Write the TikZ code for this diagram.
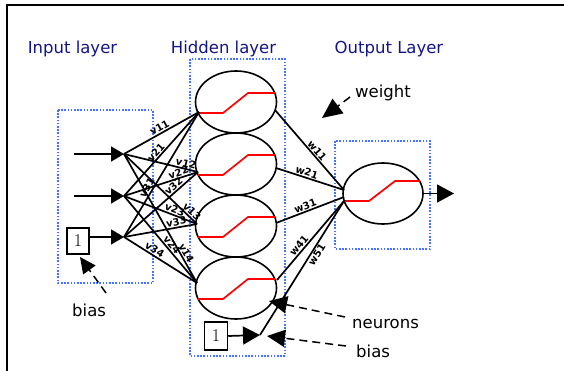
\documentclass[tikz,border=0pt]{standalone}
\usepackage{fontspec}
\newfontfamily\dv{DejaVu Sans}
\usetikzlibrary{arrows.meta,shapes.geometric}
\definecolor{navy}{RGB}{20,20,135}
\definecolor{dotblue}{RGB}{70,115,255}
\begin{document}
\begin{tikzpicture}[x=1pt,y=-1pt,
  every node/.style={inner sep=0pt},
  conn/.style={line width=1.7pt},
  neuron/.style={draw, line width=1.6pt, ellipse, minimum width=81pt, minimum height=62pt},
  act/.style={red, line width=1.7pt},
  layerbox/.style={dotblue, line width=1.6pt, dash pattern=on 1.6pt off 1.6pt},
  ttl/.style={text=navy, font=\dv\fontsize{16.5}{19}\selectfont, anchor=base},
  note/.style={font=\dv\fontsize{16.5}{19}\selectfont, anchor=base west},
  wlab/.style={font=\dv\bfseries\fontsize{10}{11}\selectfont, sloped, above=1pt},
  wlabb/.style={font=\dv\bfseries\fontsize{10}{11}\selectfont, sloped, below=1pt},
  inarrow/.style={-{Triangle[length=13pt,width=15pt]}},
  bigarrow/.style={-{Triangle[length=17pt,width=18pt]}},
  ptr/.style={line width=1.5pt, dash pattern=on 8pt off 5pt, -{Triangle[length=18pt,width=17pt]}},
  onebox/.style={draw, line width=1.5pt, font=\fontsize{18}{18}\selectfont}
]
\useasboundingbox (0,0) rectangle (564,371);
% outer frame
\draw[line width=2pt] (7,371) -- (7,5) -- (564,5);

% titles
\node[ttl] (tin) at (72.5,54) {Input layer};
\node[ttl] (thid) at (223.5,54) {Hidden layer};
\node[ttl] (tout) at (389,54) {Output Layer};

% layer boxes
\draw[layerbox] (58,110) rectangle (153,283);
\draw[layerbox] (190,59) rectangle (285,356);
\draw[layerbox] (335,141) rectangle (430,249);

% neurons
\node[neuron] (h1) at (236,102) {};
\node[neuron] (h2) at (236,164) {};
\node[neuron] (h3) at (236,226) {};
\node[neuron] (h4) at (236,288) {};
\node[neuron, minimum width=80pt, minimum height=61pt] (o) at (383,193.5) {};

\foreach \n in {h1,h2,h3,h4}{
  \draw[act] ([shift={(-38,11)}]\n.center) -- ([shift={(-13,11)}]\n.center)
    -- ([shift={(12,-9)}]\n.center) -- ([shift={(39,-9)}]\n.center);
}
\draw[act] ([shift={(-38,7.5)}]o.center) -- ([shift={(-14,7.5)}]o.center)
  -- ([shift={(12,-12.5)}]o.center) -- ([shift={(37,-12.5)}]o.center);

% coordinates
\coordinate (s1) at (74,154);
\coordinate (s2) at (74,196);
\coordinate (i1) at (124,154);
\coordinate (i2) at (124,196);
\coordinate (i3) at (124,237);
\coordinate (h1in) at (199,112);
\coordinate (h2in) at (198,172);
\coordinate (h3in) at (197,224);
\coordinate (h4in) at (197,283);
\coordinate (h1out) at (275,110);
\coordinate (h2out) at (276,168);
\coordinate (h3out) at (276,223);
\coordinate (h4out) at (277,280);
\coordinate (oA) at (344,190);
\coordinate (oB) at (344,197);
\coordinate (oC) at (344,201);
\coordinate (oend) at (454,193.5);
\coordinate (b2tip) at (260,335);

% inputs
\draw[conn, inarrow] (s1) -- (i1);
\draw[conn, inarrow] (s2) -- (i2);
\node[onebox, minimum width=22pt, minimum height=26pt] (b1) at (78,241) {1};
\draw[conn, inarrow] (b1.east |- i3) -- (i3);

% input -> hidden
\draw[conn] (i1) -- node[wlab,pos=.51] (lv11) {v11} (h1in);
\draw[conn] (i2) -- node[wlab,pos=.48] (lv21) {v21} (h1in);
\draw[conn] (i3) -- node[wlab,pos=.37] (lv31) {v31} (h1in);
\draw[conn] (i1) -- node[wlab,pos=.82] (lv12) {v12} (h2in);
\draw[conn] (i2) -- node[wlab,pos=.76] (lv22) {v22} (h2in);
\draw[conn] (i3) -- node[wlab,pos=.72] (lv32) {v32} (h2in);
\draw[conn] (i1) -- node[wlab,pos=.88] (lv13) {v13} (h3in);
\draw[conn] (i2) -- node[wlab,pos=.67] (lv23) {v23} (h3in);
\draw[conn] (i3) -- node[wlab,pos=.73] (lv33) {v33} (h3in);
\draw[conn] (i1) -- node[wlab,pos=.79] (lv14) {v14} (h4in);
\draw[conn] (i2) -- node[wlab,pos=.60] (lv24) {v24} (h4in);
\draw[conn] (i3) -- node[wlab,pos=.38] (lv34) {v34} (h4in);

% hidden -> output
\draw[conn] (h1out) -- node[wlab,pos=.55] (lw11) {w11} (oA);
\draw[conn] (h2out) -- node[wlab,pos=.43] (lw21) {w21} (oA);
\draw[conn] (h3out) -- node[wlab,pos=.46] (lw31) {w31} (oB);
\draw[conn] (h4out) -- node[wlab,pos=.39] (lw41) {w41} (oC);
\node[onebox, minimum width=23pt, minimum height=28pt] (b2) at (216,336) {1};
\draw[conn, bigarrow] (b2.east) -- (b2tip);
\draw[conn] (b2tip) -- node[wlabb,pos=.62] (lw51) {w51} (oC);

% output arrow
\draw[conn, bigarrow] (o.east) -- (oend);

% annotations
\node[note] (tw) at (355,98) {weight};
\node[note] (tn) at (352,328) {neurons};
\node[note] (tb) at (356,357) {bias};
\node[note] (tbl) at (72,316) {bias};
\coordinate (wst) at (350,97);
\coordinate (wtip) at (322,118);
\coordinate (nst) at (345,317);
\coordinate (ntip) at (269,301);
\coordinate (bst) at (346,346);
\coordinate (btip) at (267,336);
\coordinate (lbst) at (106,293);
\coordinate (lbtip) at (80,257);
\draw[ptr, -{Triangle[length=20pt,width=18pt]}] (wst) -- (wtip);
\draw[ptr] (nst) -- (ntip);
\draw[ptr] (bst) -- (btip);
\draw[ptr, -{Triangle[length=16pt,width=15pt]}] (lbst) -- (lbtip);
\end{tikzpicture}
\end{document}
